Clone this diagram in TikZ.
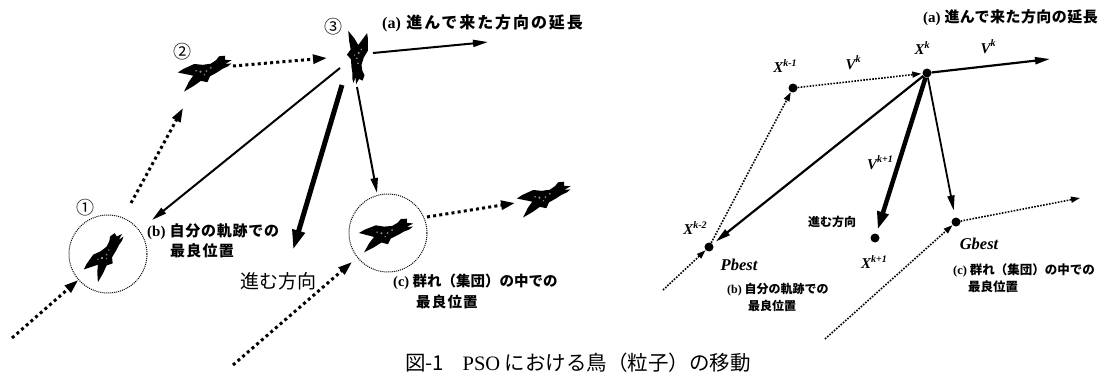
\documentclass[tikz,border=0pt]{standalone}
\usepackage{fontspec}
\usetikzlibrary{arrows.meta}
\newfontfamily\jp{Noto Sans CJK JP}
\newfontfamily\tms{Liberation Serif}

% superscript index for the position / velocity symbols
\newcommand{\idx}[1]{\raisebox{0.45em}{\fontsize{10}{10}\selectfont #1}}
% tracked bold gothic for the labels
\newcommand{\trk}[1]{\addfontfeature{LetterSpace=#1}}

\tikzset{
  % a flying bird, head towards +x, about 55 units long
  bird/.pic={
    \fill[black] (27,-6) -- (21,-8) -- (22,-12) -- (16,-13) -- (12,-10) -- (6,-8)
      -- (-2,-9) -- (-10,-12) -- (-22,-10) -- (-28,-8) -- (-20,-4) -- (-14,-1)
      -- (-20,4) -- (-27,12) -- (-16,9) -- (-8,6) -- (-2,9) -- (2,4) -- (10,2)
      -- (16,0) -- (22,-1) -- (26,-3) -- (20,-4) -- cycle;
    \fill[black!45] (-6,-3) circle (1.2) (0,-2) circle (1) (-10,-5) circle (0.9)
      (5,-4) circle (1) (-3,1) circle (0.8);
  }
}

\begin{document}
\begin{tikzpicture}[x=1pt,y=-1pt,
  lbl/.style={inner sep=0pt, anchor=west, font=\jp\bfseries\fontsize{15}{18}\selectfont\trk{5}},
  lbls/.style={inner sep=0pt, anchor=west, font=\jp\bfseries\fontsize{12}{14}\selectfont},
  var/.style={inner sep=0pt, font=\tms\bfseries\itshape\fontsize{15}{16}\selectfont},
  best/.style={inner sep=0pt, font=\tms\bfseries\itshape\fontsize{16.5}{18}\selectfont},
  num/.style={inner sep=0pt, font=\jp\fontsize{18}{20}\selectfont},
  ring/.style={circle, draw, line width=1pt, dash pattern=on 1pt off 1pt, minimum size=78pt, inner sep=0pt},
  pdot/.style={circle, fill, inner sep=0pt, minimum size=9pt},
  bigdots/.style={line width=3pt, dash pattern=on 3pt off 3.2pt, -{Triangle[length=14pt,width=9pt]}},
  finedots/.style={line width=1.6pt, dash pattern=on 1.6pt off 1.4pt, -{Triangle[length=9pt,width=6pt]}},
  move/.style={line width=2pt, -{Triangle[length=15pt,width=7pt]}},
  heavy/.style={line width=5pt, -{Triangle[length=20pt,width=12pt]}},
  heavyr/.style={line width=4.5pt, -{Triangle[length=18pt,width=11pt]}},
]
\useasboundingbox (0,0) rectangle (1103,380);
\fill[white] (0,0) rectangle (1103,380);

%% ---------------- left: birds ----------------
\node[ring] (c1) at (108,254) {};
\node[ring] (c2) at (388,233) {};
\path (108,256) pic[rotate=45, scale=0.95] {bird};
\path (207,73) pic[rotate=15] {bird};
\path (355,58) pic[rotate=-100, scale=0.95] {bird};
\path (388,235) pic[rotate=12] {bird};
\path (546,199) pic[rotate=15] {bird};

\node[num] (n1) at (85,208) {①};
\node[num] (n2) at (182,52) {②};
\node[num] (n3) at (333,27) {③};

% arrow end points around the birds
\coordinate (in1) at (12,338);
\coordinate (o1) at (131,203);
\coordinate (t2) at (183,108);
\coordinate (o2) at (233,66);
\coordinate (t3) at (327,58);
\coordinate (ha) at (373,53);
\coordinate (ta) at (488,42);
\coordinate (hb) at (340,68);
\coordinate (tb) at (152,220);
\coordinate (hd) at (342,85);
\coordinate (td) at (293,250);
\coordinate (hc) at (357,87);
\coordinate (tc) at (377,193);
\coordinate (in2) at (233,365);
\coordinate (t4) at (352,262);
\coordinate (o4) at (427,217);
\coordinate (t5) at (515,203);

\draw[bigdots] (in1) -- (c1);
\draw[bigdots] (o1) -- (t2);
\draw[bigdots] (o2) -- (t3);
\draw[bigdots] (in2) -- (t4);
\draw[bigdots] (o4) -- (t5);
\draw[move] (ha) -- (ta);
\draw[move] (hb) -- (tb);
\draw[move] (hc) -- (tc);
\draw[heavy] (hd) -- (td);

\node[lbl, font=\jp\bfseries\fontsize{16}{18}\selectfont\trk{12}] (la) at (382,23) {{\tms (a)} 進んで来た方向の延長};
\node[lbl] (lb1) at (147,232) {{\tms (b)} 自分の軌跡での};
\node[lbl, font=\jp\bfseries\fontsize{15}{18}\selectfont\trk{8}] (lb2) at (170,251) {最良位置};
\node[lbl, font=\jp\fontsize{19}{21}\selectfont] (ldir) at (240,281) {進む方向};
\node[lbl, font=\jp\bfseries\fontsize{14.5}{17}\selectfont] (lc1) at (393,282) {{\tms (c)} 群れ（集団）の中での};
\node[lbl, font=\jp\bfseries\fontsize{14.5}{17}\selectfont\trk{8}] (lc2) at (416,302) {最良位置};

%% ---------------- right: positions and velocities ----------------
\node[pdot] (P) at (709,247) {};
\node[pdot] (Xm1) at (793,88) {};
\node[pdot] (X) at (927,73) {};
\node[pdot] (Xp1) at (875,238) {};
\node[pdot] (G) at (956,222) {};

\coordinate (pin) at (663,290);
\coordinate (gin) at (825,339);
\coordinate (vend) at (1050,59);
\coordinate (gout) at (1080,198);

\draw[finedots] (pin) -- (P);
\draw[finedots] (P) -- (Xm1);
\draw[finedots, shorten >=1pt] (Xm1) -- (X);
\draw[finedots] (gin) -- (G);
\draw[finedots] (G) -- (gout);
\draw[move, line width=2.2pt] (X) -- (vend);
\draw[move, line width=2.2pt, shorten >=4pt] (X) -- (P);
\draw[heavyr, shorten >=4pt] (X) -- (Xp1);
\draw[move, line width=1.8pt, shorten >=7pt] (X) -- (G);

\node[var] (lXm1) at (785,66) {X\idx{k-1}};
\node[var] (lV1) at (853,63) {V\idx{k}};
\node[var] (lX) at (922,48) {X\idx{k}};
\node[var] (lV2) at (988,47) {V\idx{k}};
\node[var] (lVp1) at (880,163) {V\idx{k+1}};
\node[var] (lXm2) at (695,228) {X\idx{k-2}};
\node[var] (lXp1) at (874,262) {X\idx{k+1}};
\node[best] (lP) at (739,265) {Pbest};
\node[best] (lG) at (979,244) {Gbest};

\node[lbls, anchor=east, font=\jp\bfseries\fontsize{15}{18}\selectfont\trk{3}] (ra) at (1098,18) {{\tms (a)} 進んで来た方向の延長};
\node[lbls] (rdir) at (808,222) {進む方向};
\node[lbls] (rb1) at (727,290) {{\tms (b)} 自分の軌跡での};
\node[lbls] (rb2) at (748,306) {最良位置};
\node[lbls, font=\jp\bfseries\fontsize{12.5}{14}\selectfont] (rc1) at (953,270) {{\tms (c)} 群れ（集団）の中での};
\node[lbls, font=\jp\bfseries\fontsize{12.5}{14}\selectfont] (rc2) at (968,287) {最良位置};

%% ---------------- caption ----------------
\node[inner sep=0pt, font=\jp\fontsize{20.5}{22}\selectfont] (cap) at (578,363)
  {図-1\hspace{0.9em}{\tms PSO} における鳥（粒子）の移動};
\end{tikzpicture}
\end{document}
